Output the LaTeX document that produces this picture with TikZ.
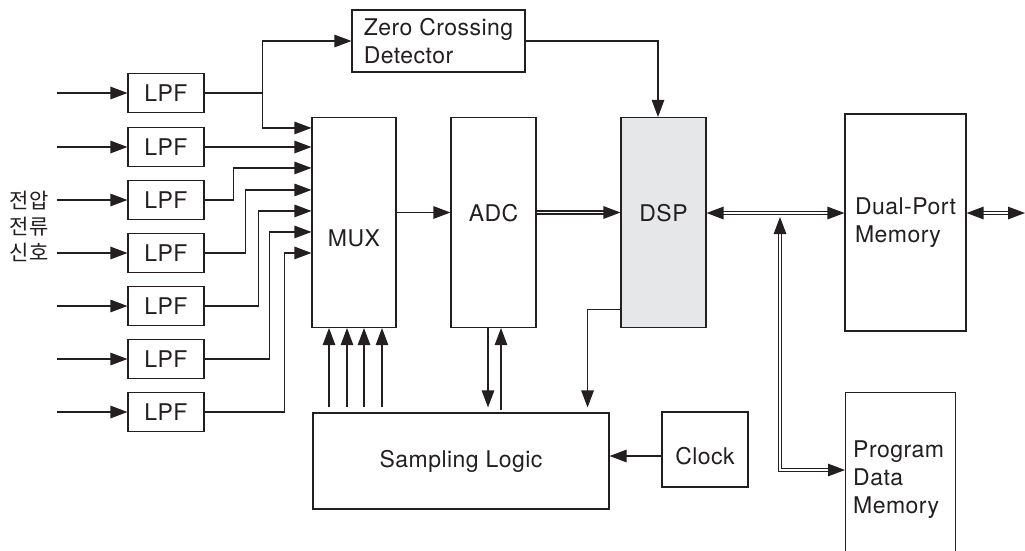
\documentclass[tikz,border=0pt]{standalone}
\usepackage{fontspec}
\setmainfont{TeX Gyre Heros}[LetterSpace=2]
\newfontfamily\kr{Noto Sans CJK KR}
\usetikzlibrary{arrows.meta,calc}
\definecolor{ink}{HTML}{231F20}
\definecolor{dspgray}{HTML}{E6E7E8}
\begin{document}
\begin{tikzpicture}[x=1pt,y=-1pt,
  every node/.style={text=ink},
  box/.style={draw=ink, line width=1.1pt, inner sep=0pt, font=\fontsize{23}{28}\selectfont},
  txt/.style={inner sep=0pt, font=\fontsize{23}{28}\selectfont},
  tip/.tip={Triangle[length=17pt,width=12.5pt]},
  arr/.style={draw=ink, line width=1.1pt, -tip},
  ln/.style={draw=ink, line width=1.1pt},
  dbl/.style={draw=ink, double=white, double distance=1.8pt, line width=1.2pt}]
\clip (0,0) rectangle (1025,550);
\fill[white] (0,0) rectangle (1025,550);

% nodes
\node[box, minimum width=173pt, minimum height=62pt, align=left] (zcd) at (438.5,41) {Zero Crossing\\Detector};
\foreach \i/\y in {1/93,2/147,3/200,4/253,5/306,6/359,7/412}
  \node[box, minimum width=76pt, minimum height=39pt] (lpf\i) at (166,\y) {LPF};
\node[box, minimum width=84pt, minimum height=210pt] (mux) at (354,222.5) {};
\node[txt] (muxt) at (354,238) {MUX};
\node[box, minimum width=85pt, minimum height=210pt] (adc) at (493.5,222.5) {};
\node[txt] (adct) at (493.5,213) {ADC};
\node[box, fill=dspgray, minimum width=85pt, minimum height=210pt] (dsp) at (663.5,222.5) {};
\node[txt] (dspt) at (663.5,213) {DSP};
\node[box, minimum width=121pt, minimum height=217pt, align=left] (dpm) at (905.5,222.5) {Dual-Port\\Memory};
\node[box, minimum width=86pt, minimum height=75pt] (clk) at (705,449.5) {};
\node[txt] (clkt) at (705,456) {Clock};
\node[box, minimum width=296pt, minimum height=96pt] (sl) at (461,461) {Sampling Logic};
\node[box, minimum width=110pt, minimum height=220pt, anchor=north west] (pdm) at (845,392) {};
\node[txt, anchor=west, align=left] (pdmt) at (853,480) {Program\\Data\\Memory};
\node[inner sep=0pt, align=center, font=\kr\fontsize{21}{26}\selectfont] (sig) at (29,226) {전압\\전류\\신호};

% inputs
\foreach \i in {1,...,7} {
  \coordinate (in\i) at ([xshift=-70pt]lpf\i.west);
  \draw[arr] (in\i) -- (lpf\i.west);
}

% MUX input points
\foreach \k/\o in {1/11,3/51,4/73,5/94,6/115,7/136}
  \coordinate (mi\k) at ($(mux.north west)+(0,\o)$);

% LPF outputs
\coordinate (j1) at ($(lpf1.east)+(58,0)$);
\draw[ln] (lpf1.east) -- (j1);
\draw[arr] (j1) |- (zcd.west);
\draw[arr] (j1) |- (mi1);
\draw[arr] (lpf2.east) -- (lpf2.east -| mux.west);
\draw[arr] (lpf3.east) -- ++(29,0) |- (mi3);
\draw[arr] (lpf4.east) -- ++(41,0) |- (mi4);
\draw[arr] (lpf5.east) -- ++(54,0) |- (mi5);
\draw[arr] (lpf6.east) -- ++(65,0) |- (mi6);
\draw[arr] (lpf7.east) -- ++(80,0) |- (mi7);

% ZCD to DSP
\draw[arr] (zcd.east) -| ([xshift=-5.5pt]dsp.north);

% MUX -> ADC -> DSP
\draw[arr] ([yshift=10pt]mux.east) -- ([yshift=10pt]adc.west);
\draw[dbl, -tip] ([yshift=10pt]adc.east) -- ([yshift=10pt]dsp.west);

% DSP bus
\draw[dbl, tip-tip] ([yshift=9.5pt]dsp.east) -- ([yshift=9.5pt]dpm.west);
\coordinate (outR) at (1025,213);
\draw[dbl, tip-tip] ([yshift=9.5pt]dpm.east) -- (outR);
\coordinate (busv) at (780,217);
\coordinate (pdmin) at ($(pdm.north west)+(0,78)$);
\draw[dbl, tip-tip] (pdmin) -| (busv);

% Sampling logic connections
\foreach \dx in {-25,-7,10,28}
  \draw[arr] ($(mux.south |- sl.north)+(\dx,-5)$) -- ([xshift=\dx pt]mux.south);
\draw[arr] ([xshift=-5.5pt]adc.south) -- ($(adc.south |- sl.north)+(-5.5,-5)$);
\draw[arr] ($(adc.south |- sl.north)+(7.5,-2)$) -- ([xshift=7.5pt]adc.south);
\draw[arr] ($(dsp.south west)+(0,-19)$) -| ($(sl.north east)+(-22,-5)$);
\draw[arr] ($(clk.west)+(0,6.5)$) -- ($(sl.east)+(0,-5)$);
\end{tikzpicture}
\end{document}
